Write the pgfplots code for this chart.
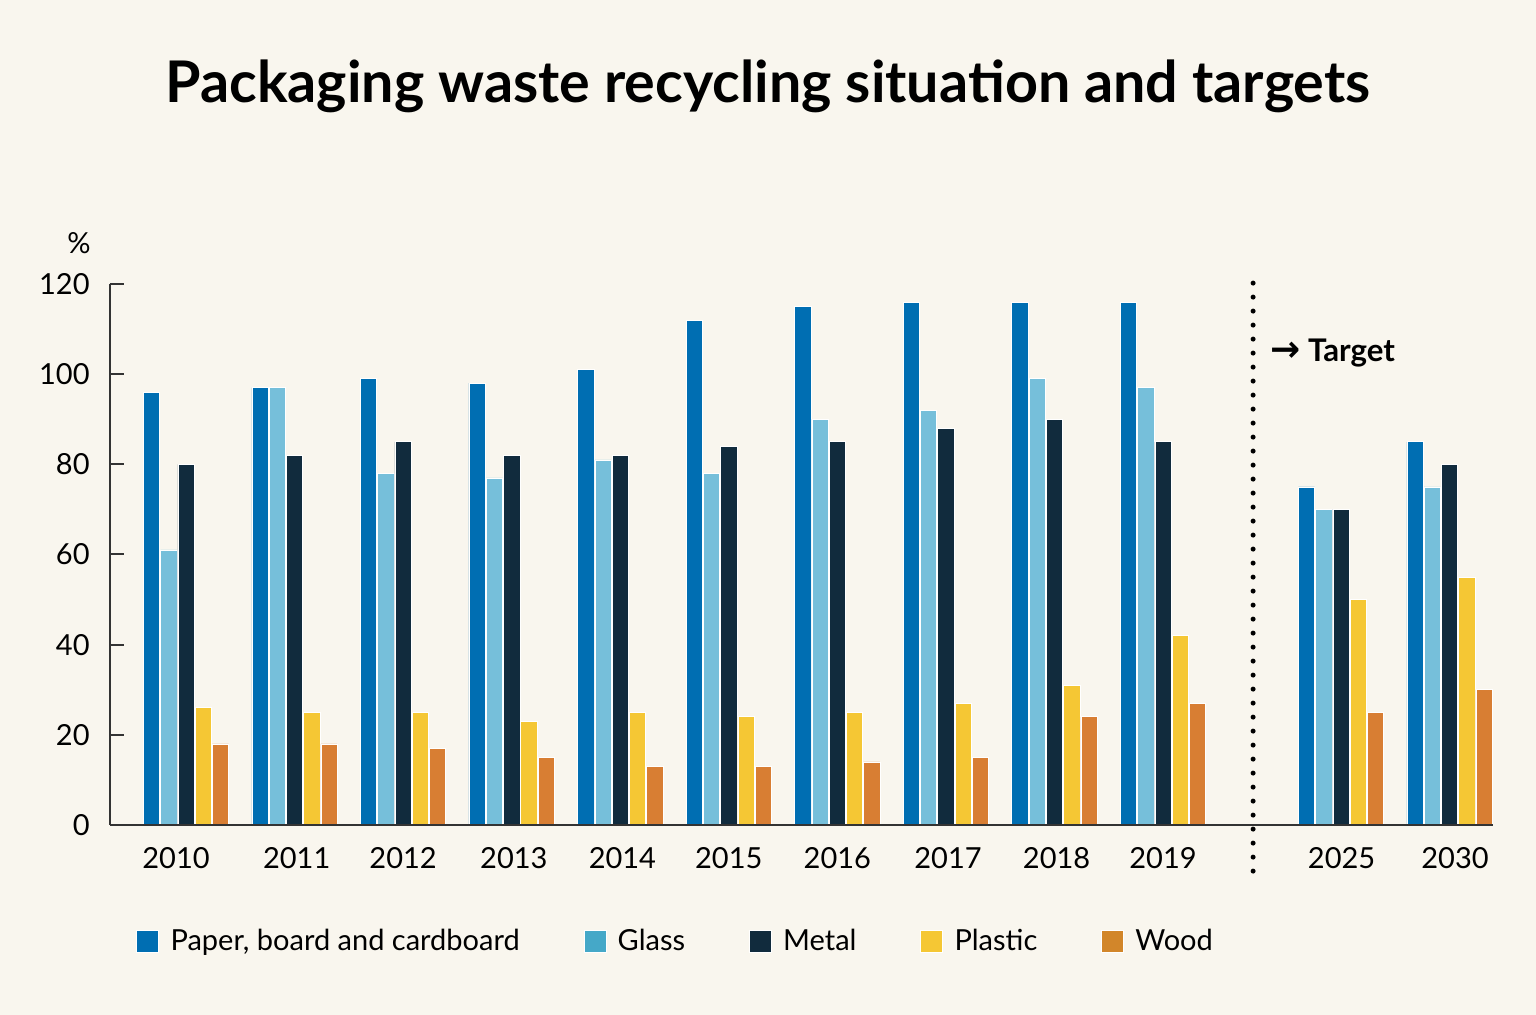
\documentclass[border=0pt]{standalone}
\usepackage{fontspec}
\setmainfont{Lato}
\newfontfamily\arrowfont{DejaVu Sans}
\usepackage{pgfplots}
\usepackage{pgfplotstable}
\pgfplotsset{compat=1.18}
\definecolor{bg}{HTML}{F9F6EE}
\definecolor{paperc}{HTML}{006EB2}
\definecolor{glassc}{HTML}{76BFDA}
\definecolor{glassl}{HTML}{45A8C8}
\definecolor{metalc}{HTML}{112B3D}
\definecolor{plasticc}{HTML}{F5C734}
\definecolor{woodc}{HTML}{D87E33}
\definecolor{woodl}{HTML}{D2862A}
\definecolor{axisc}{HTML}{333333}
\pgfplotstableread{
x paper glass metal plastic wood
0 96 61 80 26 18
1 97 97 82 25 18
2 99 78 85 25 17
3 98 77 82 23 15
4 101 81 82 25 13
5 112 78 84 24 13
6 115 90 85 25 14
7 116 92 88 27 15
8 116 99 90 31 24
9 116 97 85 42 27
10.64 75 70 70 50 25
11.64 85 75 80 55 30
}\datatable
\pgfplotsset{
  sqlegend/.style={legend image code/.code={\fill[##1] (0pt,-5.5pt) rectangle (11pt,5.5pt);}},
}
\begin{document}
\begin{tikzpicture}
\fill[bg] (-55pt,-95pt) rectangle (713pt,412.5pt);
\begin{axis}[
  scale only axis, width=691.5pt, height=270.5pt,
  xmin=-0.70, xmax=12.04, ymin=0, ymax=120,
  axis on top,
  axis x line*=bottom, axis y line*=left,
  axis line style={draw=axisc, line width=1pt},
  ytick={0,20,...,120},
  xtick={-0.092,1.02,2.0,3.02,4.02,5.0,6.0,7.02,8.02,9.0,10.645,11.69},
  xticklabels={2010,2011,2012,2013,2014,2015,2016,2017,2018,2019,2025,2030},
  tick align=inside, major tick length=7pt,
  ytick style={draw=axisc, line width=1pt},
  xtick style={draw=none},
  tick label style={font=\fontsize{14.5}{17}\selectfont, inner sep=0pt},
  /pgf/number format/assume math mode=true,
  yticklabel style={xshift=-10pt},
  xticklabel style={yshift=-11pt},
  clip=false,
  sqlegend,
  legend columns=5,
  legend cell align=left,
  legend style={at={(axis description cs:0.0188,-0.2144)}, anchor=west,
    draw=none, fill=none, inner sep=0pt,
    font=\fontsize{14.5}{17}\selectfont,
    nodes={inner sep=0pt},
    /tikz/every odd column/.append style={column sep=5.8pt},
    /tikz/every even column/.append style={column sep=31.9pt}},
  every axis plot/.append style={ybar, bar width=0.150, draw=white, line width=0.3pt},
]
\addplot[fill=paperc, bar shift=-0.318] table[x=x,y=paper]{\datatable};
\addlegendentry{Paper, board and cardboard}
\addplot[fill=glassc, bar shift=-0.159, legend image post style={fill=glassl}] table[x=x,y=glass]{\datatable};
\addlegendentry{Glass}
\addplot[fill=metalc, bar shift=0] table[x=x,y=metal]{\datatable};
\addlegendentry{Metal}
\addplot[fill=plasticc, bar shift=0.159] table[x=x,y=plastic]{\datatable};
\addlegendentry{Plastic}
\addplot[fill=woodc, bar shift=0.318, legend image post style={fill=woodl}] table[x=x,y=wood]{\datatable};
\addlegendentry{Wood}
\draw[black, line width=2.5pt, line cap=round, dash pattern=on 0pt off 7pt] (axis cs:9.83,120.2) -- (axis cs:9.83,-10.5);
\node[anchor=west, inner sep=0pt, font=\fontsize{15.6}{19}\selectfont\bfseries] at (axis cs:9.99,104.7) {{\arrowfont\fontsize{18}{20}\selectfont →}\hspace{3.5pt}Target};
\end{axis}
\node[anchor=base, inner sep=0pt, font=\fontsize{28.7}{34}\selectfont\bfseries] at (329pt,361pt) {Packaging waste recycling situation and targets};
\node[anchor=base, inner sep=0pt, font=\fontsize{14.5}{17}\selectfont] at (-15.5pt,285.5pt) {\%};
\pgfresetboundingbox
\useasboundingbox (-55pt,-95pt) rectangle (713pt,412.5pt);
\end{tikzpicture}
\end{document}
